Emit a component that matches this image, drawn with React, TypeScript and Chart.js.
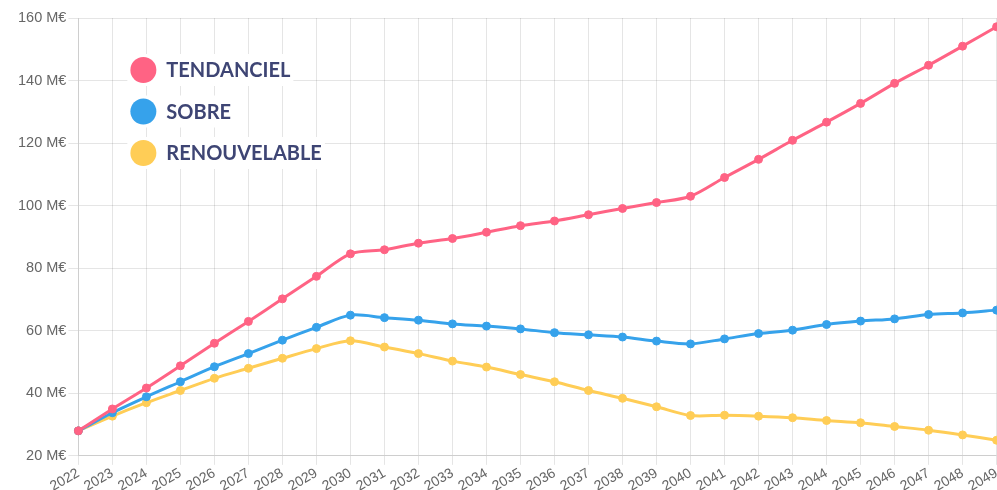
import React, { useEffect, useRef } from 'react';
import { Chart, registerables } from 'chart.js';

Chart.register(...registerables);

const years = [
  '2022', '2023', '2024', '2025', '2026', '2027', '2028', '2029', '2030', '2031',
  '2032', '2033', '2034', '2035', '2036', '2037', '2038', '2039', '2040', '2041',
  '2042', '2043', '2044', '2045', '2046', '2047', '2048', '2049',
];

const tendanciel = [
  28, 35.0, 41.7, 48.8, 56.0, 63.0, 70.2, 77.4, 84.6, 85.9,
  88.0, 89.5, 91.5, 93.6, 95.1, 97.1, 99.1, 101.0, 103.0, 109.0,
  114.8, 120.9, 126.7, 132.7, 139.1, 144.9, 151.0, 157.2,
];

const sobre = [
  28, 33.8, 38.9, 43.7, 48.5, 52.7, 57.0, 61.1, 65.0, 64.2,
  63.4, 62.2, 61.5, 60.6, 59.4, 58.7, 58.0, 56.7, 55.8, 57.4,
  59.1, 60.2, 62.0, 63.1, 63.8, 65.2, 65.7, 66.6,
];

const renouvelable = [
  28, 32.7, 37.0, 40.9, 44.8, 48.0, 51.2, 54.3, 56.8, 54.8,
  52.7, 50.3, 48.4, 46.0, 43.7, 40.9, 38.4, 35.7, 32.9, 33.0,
  32.7, 32.2, 31.3, 30.6, 29.4, 28.2, 26.7, 25.0,
];

const seriesNames = ['TENDANCIEL', 'SOBRE', 'RENOUVELABLE'];
const seriesColors = ['#ff6384', '#36a2eb', '#ffcd56'];

const yMin = 20;
const yMax = 160;
const yStep = 20;

const legendPlugin = {
  id: 'insideLegend',
  afterDraw(chart: any) {
    const { ctx, chartArea } = chart;
    const x0 = chartArea.left + 65;
    const y0 = chartArea.top + 52;
    const gap = 41.5;
    ctx.save();
    ctx.font = 'bold 20px Lato';
    ctx.textBaseline = 'middle';
    ctx.textAlign = 'left';
    chart.data.datasets.forEach((ds: any, i: number) => {
      const cy = y0 + i * gap;
      const tw = ctx.measureText(ds.label).width;
      ctx.fillStyle = '#ffffff';
      ctx.fillRect(x0 - 16, cy - 16, 16 + 23 + tw + 3, 32);
      ctx.beginPath();
      ctx.arc(x0, cy, 13, 0, Math.PI * 2);
      ctx.fillStyle = ds.borderColor;
      ctx.fill();
      ctx.fillStyle = '#3e4574';
      ctx.fillText(ds.label, x0 + 23, cy + 1);
    });
    ctx.restore();
  },
};

export default function App() {
  const canvasRef = useRef<HTMLCanvasElement | null>(null);

  useEffect(() => {
    if (!canvasRef.current) return;
    const values = [tendanciel, sobre, renouvelable];
    const chart = new Chart(canvasRef.current, {
      type: 'line',
      data: {
        labels: years,
        datasets: values.map((v, i) => ({
          label: seriesNames[i],
          data: v,
          borderColor: seriesColors[i],
          backgroundColor: seriesColors[i],
          pointBackgroundColor: seriesColors[i],
          pointBorderColor: seriesColors[i],
          borderWidth: 3,
          pointRadius: 4,
          pointBorderWidth: 1,
          tension: 0.3,
          fill: false,
        })),
      },
      options: {
        animation: false,
        responsive: true,
        maintainAspectRatio: false,
        layout: { padding: { left: 16, top: 18, right: 0, bottom: 0 } },
        plugins: {
          legend: { display: false },
          tooltip: { enabled: false },
        },
        scales: {
          x: {
            grid: { color: 'rgba(0,0,0,0.1)', tickLength: 9 },
            border: { color: 'rgba(0,0,0,0.1)' },
            ticks: {
              autoSkip: false,
              minRotation: 30,
              maxRotation: 30,
              color: '#666',
              font: { family: 'Liberation Sans', size: 14 },
              padding: 0,
            },
          },
          y: {
            min: yMin,
            max: yMax,
            grid: { color: 'rgba(0,0,0,0.1)', tickLength: 10 },
            border: { color: 'rgba(0,0,0,0.1)' },
            ticks: {
              stepSize: yStep,
              color: '#666',
              font: { family: 'Liberation Sans', size: 14.5 },
              padding: 2,
              callback: (v: any) => `${v} M€`,
            },
          },
        },
      },
      plugins: [legendPlugin],
    });
    return () => chart.destroy();
  }, []);

  return (
    <div style={{ position: 'fixed', left: 0, top: 0, width: '1005px', height: '495px', background: '#fff' }}>
      <canvas ref={canvasRef} />
    </div>
  );
}
